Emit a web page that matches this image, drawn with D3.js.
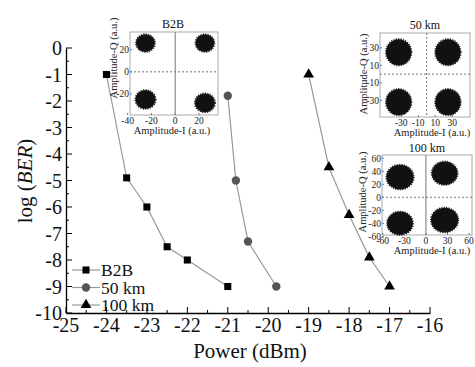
<!DOCTYPE html>
<html><head><meta charset="utf-8">
<script src="https://cdn.jsdelivr.net/npm/d3@7"></script>
<style>body{margin:0;background:#fff}svg{display:block}</style>
</head><body>
<script>
// ---- main data ----
const xTicks = [-25,-24,-23,-22,-21,-20,-19,-18,-17,-16];
const yTicks = [0,-1,-2,-3,-4,-5,-6,-7,-8,-9,-10];
const b2bX = [-24,-23.5,-23,-22.5,-22,-21];
const b2bY = [-1,-4.9,-6,-7.5,-8,-9];
const km50X = [-21,-20.8,-20.5,-19.8];
const km50Y = [-1.8,-5,-7.3,-9];
const km100X = [-19,-18.5,-18,-17.5,-17];
const km100Y = [-1,-4.5,-6.3,-7.9,-9];
const seriesNames = ["B2B","50 km","100 km"];

// ---- inset data (cluster centres and spreads in a.u.) ----
const b2bClusterI = [-25,25,-25,25];
const b2bClusterQ = [26,26,-25,-28];
const b2bClusterR = [8,8,8.5,8.5];
const b2bInsetXTicks = [-40,-20,0,20];
const b2bInsetYTicks = [20,0,-20];

const c50ClusterI = [-33,25,-33,25];
const c50ClusterQ = [25,25,-32,-32];
const c50ClusterR = [15,15,15,15];
const c50XTicks = [-30,-10,10,30];
const c50YTicks = [30,10,-10,-30];

const c100ClusterI = [-36,26,-36,26];
const c100ClusterQ = [31,37,-40,-35];
const c100ClusterR = [19,18,18,19];
const c100XTicks = [-60,-30,0,30,60];
const c100YTicks = [60,40,20,0,-20,-40,-60];

const FONT='"Liberation Serif","Times New Roman",serif';
const W=475,H=367;
const svg=d3.select("body").append("svg").attr("width",W).attr("height",H);
function txt(g){return g.append("text").style("font-family",FONT).attr("fill","#111");}

const x=d3.scaleLinear().domain([-25,-16]).range([66,430]);
const y=d3.scaleLinear().domain([0,-10]).range([48,313]);

// axes
const gx=svg.append("g").attr("transform",`translate(0,${y(-10)})`);
gx.call(d3.axisBottom(x).tickValues([]).tickSize(0).tickFormat(""));
gx.select(".domain").attr("stroke","#000").attr("stroke-width",1.3);
gx.selectAll(".tickm").data(d3.range(-25,-15.9,0.5)).enter().append("line")
 .attr("x1",d=>x(d)).attr("x2",d=>x(d)).attr("y1",0).attr("y2",d=>Number.isInteger(d)?-6:-3).attr("stroke","#000");
xTicks.forEach(d=>txt(gx).attr("x",x(d)).attr("y",19).attr("text-anchor","middle").attr("font-size",20).text(d));

const gy=svg.append("g").attr("transform",`translate(${x(-25)},0)`);
gy.call(d3.axisLeft(y).tickValues([]).tickSize(0).tickFormat(""));
gy.select(".domain").attr("stroke","#000").attr("stroke-width",1.3);
gy.selectAll(".tickm").data(d3.range(0,-10.1,-0.5)).enter().append("line")
 .attr("y1",d=>y(d)).attr("y2",d=>y(d)).attr("x1",0).attr("x2",d=>Number.isInteger(d)?6:3).attr("stroke","#000");
yTicks.forEach(d=>txt(gy).attr("x",-4).attr("y",y(d)+7).attr("text-anchor","end").attr("font-size",20).text(d));

txt(svg).attr("x",250).attr("y",358).attr("text-anchor","middle").attr("font-size",21).text("Power (dBm)");
const yl=txt(svg).attr("transform",`translate(32,181) rotate(-90)`).attr("text-anchor","middle").attr("font-size",21);
yl.append("tspan").text("log (");
yl.append("tspan").attr("font-style","italic").text("BER");
yl.append("tspan").text(")");

// series
const series=[
 {name:seriesNames[0],xs:b2bX,ys:b2bY,sym:d3.symbolSquare,size:50,fill:"#000"},
 {name:seriesNames[1],xs:km50X,ys:km50Y,sym:d3.symbolCircle,size:55,fill:"#555"},
 {name:seriesNames[2],xs:km100X,ys:km100Y,sym:d3.symbolTriangle,size:50,fill:"#000"}];
const line=d3.line().x(d=>x(d[0])).y(d=>y(d[1]));
series.forEach(s=>{
 const pts=s.xs.map((v,i)=>[v,s.ys[i]]);
 svg.append("path").attr("d",line(pts)).attr("fill","none").attr("stroke","#999").attr("stroke-width",1.2);
 svg.selectAll(null).data(pts).enter().append("path")
  .attr("d",d3.symbol().type(s.sym).size(s.size))
  .attr("transform",d=>`translate(${x(d[0])},${y(d[1])})`).attr("fill",s.fill);
});

// legend
series.forEach((s,i)=>{
 const ly=270+i*17.5;
 svg.append("line").attr("x1",72).attr("x2",100).attr("y1",ly).attr("y2",ly).attr("stroke","#999").attr("stroke-width",1.2);
 svg.append("path").attr("d",d3.symbol().type(s.sym).size(s.size)).attr("transform",`translate(86,${ly})`).attr("fill",s.fill);
 txt(svg).attr("x",101).attr("y",ly+6).attr("font-size",17.5).text(s.name);
});

// inset helper
function inset(o){
 const xi=d3.scaleLinear().domain(o.xd).range([o.x0,o.x1]);
 const yi=d3.scaleLinear().domain(o.yd).range([o.y1,o.y0]);
 const g=svg.append("g");
 g.append("rect").attr("x",o.x0).attr("y",o.y0).attr("width",o.x1-o.x0).attr("height",o.y1-o.y0)
  .attr("fill","#fff").attr("stroke","#aaa").attr("stroke-width",1);
 g.append("line").attr("x1",o.x0).attr("x2",o.x1).attr("y1",yi(0)).attr("y2",yi(0)).attr("stroke","#777").attr("stroke-dasharray","2,2");
 g.append("line").attr("y1",o.y0).attr("y2",o.y1).attr("x1",xi(0)).attr("x2",xi(0)).attr("stroke","#777").attr("stroke-dasharray",o.vdash?"2,2":null);
 o.ci.forEach((c,i)=>{
  g.append("ellipse").attr("cx",xi(c)).attr("cy",yi(o.cq[i]))
   .attr("rx",Math.abs(xi(o.cr[i])-xi(0))).attr("ry",Math.abs(yi(o.cr[i])-yi(0)))
   .attr("fill","#111").attr("stroke","#222").attr("stroke-width",1.8).attr("stroke-dasharray","1.2,1.2");
 });
 o.xt.forEach(t=>{
  g.append("line").attr("x1",xi(t)).attr("x2",xi(t)).attr("y1",o.y1).attr("y2",o.y1-2).attr("stroke","#777");
  txt(g).attr("x",xi(t)).attr("y",o.y1+8.5).attr("text-anchor","middle").attr("font-size",9.5).attr("fill","#222").text(t);
 });
 o.yt.forEach(t=>{
  g.append("line").attr("y1",yi(t)).attr("y2",yi(t)).attr("x1",o.x0).attr("x2",o.x0+2).attr("stroke","#777");
  txt(g).attr("x",o.x0-1).attr("y",yi(t)+3.3).attr("text-anchor","end").attr("font-size",9.5).attr("fill","#222").text(t);
 });
 txt(g).attr("x",o.tx).attr("y",o.ty).attr("text-anchor","middle").attr("font-size",o.tfs).text(o.title);
 txt(g).attr("x",o.xlx).attr("y",o.y1+19).attr("text-anchor","middle").attr("font-size",10.5).attr("fill","#222").text("Amplitude-I (a.u.)");
 txt(g).attr("transform",`translate(${o.ylx},${o.yly}) rotate(-90)`).attr("text-anchor","middle").attr("font-size",10.5).attr("fill","#222").text("Amplitude-Q (a.u.)");
}
inset({x0:130,x1:218,y0:32,y1:115,xd:[-38,36],yd:[-39,36],ci:b2bClusterI,cq:b2bClusterQ,cr:b2bClusterR,
 xt:b2bInsetXTicks,yt:b2bInsetYTicks,title:"B2B",tx:173,ty:28,tfs:12,xlx:172,ylx:117,yly:58,vdash:false});
inset({x0:380,x1:470,y0:33,y1:117,xd:[-55,51],yd:[-49,47],ci:c50ClusterI,cq:c50ClusterQ,cr:c50ClusterR,
 xt:c50XTicks,yt:c50YTicks,title:"50 km",tx:425,ty:29,tfs:12,xlx:432,ylx:367,yly:74,vdash:true});
inset({x0:382,x1:472,y0:155,y1:235,xd:[-61,64],yd:[-58,65],ci:c100ClusterI,cq:c100ClusterQ,cr:c100ClusterR,
 xt:c100XTicks,yt:c100YTicks,title:"100 km",tx:427,ty:152,tfs:12,xlx:432,ylx:366,yly:192,vdash:false});
</script>
</body></html>
